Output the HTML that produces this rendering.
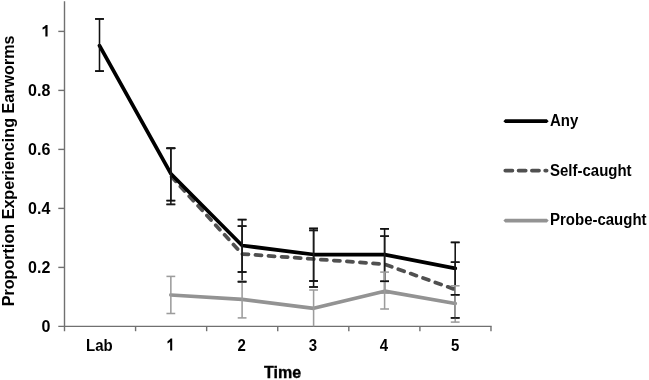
<!DOCTYPE html>
<html><head><meta charset="utf-8"><style>
html,body{margin:0;padding:0;background:#fff;}
svg{display:block;filter:grayscale(1);}
text{font-family:"Liberation Sans",sans-serif;font-weight:bold;fill:#000;}
.yl{font-size:16px;}
.xl{font-size:15px;}
.lg{font-size:15px;}
.tt{font-size:16px;}
.yt{font-size:16.15px;}
.tb{stroke:#000;stroke-width:0.35px;}
</style></head><body>
<svg width="649" height="380" viewBox="0 0 649 380">
<rect width="649" height="380" fill="#fff"/>
<line x1="64.5" y1="1.2" x2="64.5" y2="331.2" stroke="#707070" stroke-width="1.4"/>
<line x1="58.3" y1="326.4" x2="491.68" y2="326.4" stroke="#707070" stroke-width="1.4"/>
<line x1="58.3" y1="267.40" x2="64.5" y2="267.40" stroke="#707070" stroke-width="1.4"/>
<line x1="58.3" y1="208.40" x2="64.5" y2="208.40" stroke="#707070" stroke-width="1.4"/>
<line x1="58.3" y1="149.40" x2="64.5" y2="149.40" stroke="#707070" stroke-width="1.4"/>
<line x1="58.3" y1="90.40" x2="64.5" y2="90.40" stroke="#707070" stroke-width="1.4"/>
<line x1="58.3" y1="31.40" x2="64.5" y2="31.40" stroke="#707070" stroke-width="1.4"/>
<line x1="135.58" y1="326.4" x2="135.58" y2="331.2" stroke="#707070" stroke-width="1.4"/>
<line x1="206.66" y1="326.4" x2="206.66" y2="331.2" stroke="#707070" stroke-width="1.4"/>
<line x1="277.74" y1="326.4" x2="277.74" y2="331.2" stroke="#707070" stroke-width="1.4"/>
<line x1="348.82" y1="326.4" x2="348.82" y2="331.2" stroke="#707070" stroke-width="1.4"/>
<line x1="419.90" y1="326.4" x2="419.90" y2="331.2" stroke="#707070" stroke-width="1.4"/>
<line x1="490.98" y1="326.4" x2="490.98" y2="331.2" stroke="#707070" stroke-width="1.4"/>
<text x="50.3" y="331.70" text-anchor="end" class="yl">0</text>
<text x="50.3" y="272.70" text-anchor="end" class="yl">0.2</text>
<text x="50.3" y="213.70" text-anchor="end" class="yl">0.4</text>
<text x="50.3" y="154.70" text-anchor="end" class="yl">0.6</text>
<text x="50.3" y="95.70" text-anchor="end" class="yl">0.8</text>
<path transform="translate(41.40,36.40) scale(16)" d="M0.385,0L0.248,0L0.248,-0.52Q0.17,-0.455 0.072,-0.425L0.072,-0.56Q0.2,-0.61 0.28,-0.716L0.385,-0.716Z" fill="#000"/>
<text transform="translate(99.40,350.6) scale(1,1.12)" text-anchor="middle" class="xl">Lab</text>
<path transform="translate(166.43,350.6) scale(15,16.8)" d="M0.385,0L0.248,0L0.248,-0.52Q0.17,-0.455 0.072,-0.425L0.072,-0.56Q0.2,-0.61 0.28,-0.716L0.385,-0.716Z" fill="#000"/>
<text transform="translate(241.70,350.6) scale(1,1.12)" text-anchor="middle" class="xl">2</text>
<text transform="translate(312.80,350.6) scale(1,1.12)" text-anchor="middle" class="xl">3</text>
<text transform="translate(384.00,350.6) scale(1,1.12)" text-anchor="middle" class="xl">4</text>
<text transform="translate(455.10,350.6) scale(1,1.12)" text-anchor="middle" class="xl">5</text>
<text x="282.5" y="377.6" text-anchor="middle" class="tt tb">Time</text>
<text transform="translate(14.0,170.9) rotate(-90)" text-anchor="middle" class="tt yt">Proportion Experiencing Earworms</text>
<polyline points="170.85,176.00 242.10,254.00 313.60,259.00 384.60,264.30 455.20,289.50" fill="none" stroke="#505050" stroke-width="3.75" stroke-dasharray="6.1 7.0" stroke-dashoffset="12.0" stroke-linejoin="round" stroke-linecap="round"/>
<polyline points="99.50,45.70 170.85,173.70 242.10,245.50 313.60,254.50 384.60,254.60 455.20,268.30" fill="none" stroke="#000" stroke-width="3.75" stroke-linejoin="round" stroke-linecap="round"/>
<line x1="99.50" y1="18.95" x2="99.50" y2="71.10" stroke="#111" stroke-width="1.55"/><line x1="95.10" y1="18.95" x2="103.90" y2="18.95" stroke="#111" stroke-width="1.55"/><line x1="95.10" y1="71.10" x2="103.90" y2="71.10" stroke="#111" stroke-width="1.55"/>
<line x1="170.85" y1="148.30" x2="170.85" y2="200.60" stroke="#111" stroke-width="1.55"/><line x1="166.45" y1="148.30" x2="175.25" y2="148.30" stroke="#111" stroke-width="1.55"/><line x1="166.45" y1="200.60" x2="175.25" y2="200.60" stroke="#111" stroke-width="1.55"/>
<line x1="242.10" y1="219.60" x2="242.10" y2="272.00" stroke="#111" stroke-width="1.55"/><line x1="237.70" y1="219.60" x2="246.50" y2="219.60" stroke="#111" stroke-width="1.55"/><line x1="237.70" y1="272.00" x2="246.50" y2="272.00" stroke="#111" stroke-width="1.55"/>
<line x1="313.60" y1="228.45" x2="313.60" y2="281.00" stroke="#111" stroke-width="1.55"/><line x1="309.20" y1="228.45" x2="318.00" y2="228.45" stroke="#111" stroke-width="1.55"/><line x1="309.20" y1="281.00" x2="318.00" y2="281.00" stroke="#111" stroke-width="1.55"/>
<line x1="384.60" y1="228.80" x2="384.60" y2="281.30" stroke="#111" stroke-width="1.55"/><line x1="380.20" y1="228.80" x2="389.00" y2="228.80" stroke="#111" stroke-width="1.55"/><line x1="380.20" y1="281.30" x2="389.00" y2="281.30" stroke="#111" stroke-width="1.55"/>
<line x1="455.20" y1="242.40" x2="455.20" y2="294.80" stroke="#111" stroke-width="1.55"/><line x1="450.80" y1="242.40" x2="459.60" y2="242.40" stroke="#111" stroke-width="1.55"/><line x1="450.80" y1="294.80" x2="459.60" y2="294.80" stroke="#111" stroke-width="1.55"/>
<line x1="170.85" y1="148.30" x2="170.85" y2="204.40" stroke="#1a1a1a" stroke-width="1.55"/><line x1="166.45" y1="148.30" x2="175.25" y2="148.30" stroke="#1a1a1a" stroke-width="1.55"/><line x1="166.45" y1="204.40" x2="175.25" y2="204.40" stroke="#1a1a1a" stroke-width="1.55"/>
<line x1="242.10" y1="226.10" x2="242.10" y2="281.80" stroke="#1a1a1a" stroke-width="1.55"/><line x1="237.70" y1="226.10" x2="246.50" y2="226.10" stroke="#1a1a1a" stroke-width="1.55"/><line x1="237.70" y1="281.80" x2="246.50" y2="281.80" stroke="#1a1a1a" stroke-width="1.55"/>
<line x1="313.60" y1="230.40" x2="313.60" y2="287.00" stroke="#1a1a1a" stroke-width="1.55"/><line x1="309.20" y1="230.40" x2="318.00" y2="230.40" stroke="#1a1a1a" stroke-width="1.55"/><line x1="309.20" y1="287.00" x2="318.00" y2="287.00" stroke="#1a1a1a" stroke-width="1.55"/>
<line x1="384.60" y1="236.20" x2="384.60" y2="292.60" stroke="#1a1a1a" stroke-width="1.55"/><line x1="380.20" y1="236.20" x2="389.00" y2="236.20" stroke="#1a1a1a" stroke-width="1.55"/><line x1="380.20" y1="292.60" x2="389.00" y2="292.60" stroke="#1a1a1a" stroke-width="1.55"/>
<line x1="455.20" y1="262.20" x2="455.20" y2="317.90" stroke="#1a1a1a" stroke-width="1.55"/><line x1="450.80" y1="262.20" x2="459.60" y2="262.20" stroke="#1a1a1a" stroke-width="1.55"/><line x1="450.80" y1="317.90" x2="459.60" y2="317.90" stroke="#1a1a1a" stroke-width="1.55"/>
<polyline points="170.85,295.00 242.10,299.40 313.60,308.30 384.60,291.20 455.20,303.50" fill="none" stroke="#939393" stroke-width="3.75" stroke-linejoin="round" stroke-linecap="round"/>
<line x1="170.85" y1="276.40" x2="170.85" y2="313.50" stroke="#9c9c9c" stroke-width="1.55"/><line x1="166.45" y1="276.40" x2="175.25" y2="276.40" stroke="#9c9c9c" stroke-width="1.55"/><line x1="166.45" y1="313.50" x2="175.25" y2="313.50" stroke="#9c9c9c" stroke-width="1.55"/>
<line x1="242.10" y1="281.00" x2="242.10" y2="317.90" stroke="#9c9c9c" stroke-width="1.55"/><line x1="237.70" y1="281.00" x2="246.50" y2="281.00" stroke="#9c9c9c" stroke-width="1.55"/><line x1="237.70" y1="317.90" x2="246.50" y2="317.90" stroke="#9c9c9c" stroke-width="1.55"/>
<line x1="313.60" y1="290.00" x2="313.60" y2="326.40" stroke="#9c9c9c" stroke-width="1.55"/><line x1="309.20" y1="290.00" x2="318.00" y2="290.00" stroke="#9c9c9c" stroke-width="1.55"/>
<line x1="384.60" y1="272.10" x2="384.60" y2="309.00" stroke="#9c9c9c" stroke-width="1.55"/><line x1="380.20" y1="272.10" x2="389.00" y2="272.10" stroke="#9c9c9c" stroke-width="1.55"/><line x1="380.20" y1="309.00" x2="389.00" y2="309.00" stroke="#9c9c9c" stroke-width="1.55"/>
<line x1="455.20" y1="285.80" x2="455.20" y2="322.10" stroke="#9c9c9c" stroke-width="1.55"/><line x1="450.80" y1="285.80" x2="459.60" y2="285.80" stroke="#9c9c9c" stroke-width="1.55"/><line x1="450.80" y1="322.10" x2="459.60" y2="322.10" stroke="#9c9c9c" stroke-width="1.55"/>
<line x1="95.10" y1="18.95" x2="103.90" y2="18.95" stroke="#111" stroke-width="1.55"/><line x1="95.10" y1="71.10" x2="103.90" y2="71.10" stroke="#111" stroke-width="1.55"/>
<line x1="166.45" y1="148.30" x2="175.25" y2="148.30" stroke="#111" stroke-width="1.55"/><line x1="166.45" y1="200.60" x2="175.25" y2="200.60" stroke="#111" stroke-width="1.55"/>
<line x1="237.70" y1="219.60" x2="246.50" y2="219.60" stroke="#111" stroke-width="1.55"/><line x1="237.70" y1="272.00" x2="246.50" y2="272.00" stroke="#111" stroke-width="1.55"/>
<line x1="309.20" y1="228.45" x2="318.00" y2="228.45" stroke="#111" stroke-width="1.55"/><line x1="309.20" y1="281.00" x2="318.00" y2="281.00" stroke="#111" stroke-width="1.55"/>
<line x1="380.20" y1="228.80" x2="389.00" y2="228.80" stroke="#111" stroke-width="1.55"/><line x1="380.20" y1="281.30" x2="389.00" y2="281.30" stroke="#111" stroke-width="1.55"/>
<line x1="450.80" y1="242.40" x2="459.60" y2="242.40" stroke="#111" stroke-width="1.55"/><line x1="450.80" y1="294.80" x2="459.60" y2="294.80" stroke="#111" stroke-width="1.55"/>
<line x1="166.45" y1="148.30" x2="175.25" y2="148.30" stroke="#1a1a1a" stroke-width="1.55"/><line x1="166.45" y1="204.40" x2="175.25" y2="204.40" stroke="#1a1a1a" stroke-width="1.55"/>
<line x1="237.70" y1="226.10" x2="246.50" y2="226.10" stroke="#1a1a1a" stroke-width="1.55"/><line x1="237.70" y1="281.80" x2="246.50" y2="281.80" stroke="#1a1a1a" stroke-width="1.55"/>
<line x1="309.20" y1="230.40" x2="318.00" y2="230.40" stroke="#1a1a1a" stroke-width="1.55"/><line x1="309.20" y1="287.00" x2="318.00" y2="287.00" stroke="#1a1a1a" stroke-width="1.55"/>
<line x1="380.20" y1="236.20" x2="389.00" y2="236.20" stroke="#1a1a1a" stroke-width="1.55"/>
<line x1="450.80" y1="262.20" x2="459.60" y2="262.20" stroke="#1a1a1a" stroke-width="1.55"/><line x1="450.80" y1="317.90" x2="459.60" y2="317.90" stroke="#1a1a1a" stroke-width="1.55"/>
<polygon points="503.4,121.2 505.275,119.325 546.825,119.325 548.7,121.2 546.825,123.075 505.275,123.075" fill="#000"/>
<text transform="translate(550,125.90) scale(1,1.12)" class="lg">Any</text>
<line x1="505.3" y1="170.6" x2="546.6" y2="170.6" stroke="#505050" stroke-width="3.75" stroke-linecap="round" stroke-dasharray="7.1 6.2"/>
<text transform="translate(550,176.00) scale(1,1.12)" class="lg">Self-caught</text>
<polygon points="503.4,220.5 505.275,218.625 546.825,218.625 548.7,220.5 546.825,222.375 505.275,222.375" fill="#939393"/>
<text transform="translate(550,225.40) scale(1,1.12)" class="lg">Probe-caught</text>
</svg>
</body></html>
